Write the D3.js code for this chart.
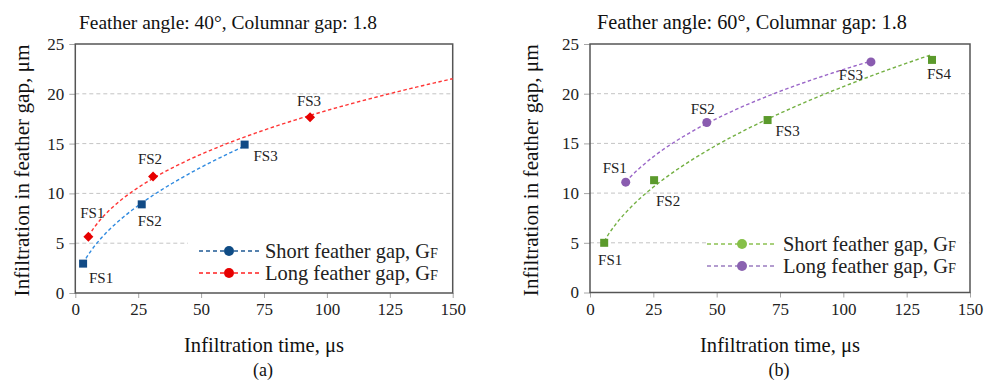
<!DOCTYPE html>
<html>
<head>
<meta charset="utf-8">
<script src="https://cdn.jsdelivr.net/npm/d3@7"></script>
<style>
  body { margin: 0; background: #fff; }
  svg { display: block; }
  svg text { font-family: 'Liberation Serif', 'DejaVu Serif', serif; }
</style>
</head>
<body>
<svg id="chart" width="986" height="381"></svg>
<script>
// axis ticks
const xTicks = [0, 25, 50, 75, 100, 125, 150];
const yTicks = [0, 5, 10, 15, 20, 25];
const pointNames = ['FS1', 'FS2', 'FS3', 'FS4'];

// (a) feather angle 40
const timeShortA = [3.1, 26.4, 67.3];
const gapShortA = [2.95, 8.9, 14.9];
const timeLongA = [5.2, 30.9, 93.3];
const gapLongA = [5.65, 11.7, 17.65];

// (b) feather angle 60
const timeShortB = [5.6, 25.3, 70.1, 135];
const gapShortB = [5.0, 11.3, 17.35, 23.4];
const timeLongB = [14.1, 46.1, 110.9];
const gapLongB = [11.1, 17.1, 23.2];

const svg = d3.select('#chart');

// fit a text element to a target width by changing its font size
function fitWidth(sel, w) {
  const cur = sel.node().getComputedTextLength();
  const fs = parseFloat(sel.attr('font-size'));
  sel.attr('font-size', (fs * w) / cur);
}

// power trendline y = a * x^b (least squares on logs)
function powerFit(xs, ys) {
  const lx = xs.map(Math.log), ly = ys.map(Math.log);
  const mx = d3.mean(lx), my = d3.mean(ly);
  const b = d3.sum(lx, (v, i) => (v - mx) * (ly[i] - my)) / d3.sum(lx, (v) => (v - mx) * (v - mx));
  const a = Math.exp(my - b * mx);
  return (x) => a * Math.pow(x, b);
}

function drawMarker(g, shape, color, cx, cy, size) {
  if (shape === 'square') {
    g.append('rect')
      .attr('x', cx - size / 2).attr('y', cy - size / 2)
      .attr('width', size).attr('height', size)
      .attr('fill', color);
  } else if (shape === 'diamond') {
    const r = size / 2 + 1;
    g.append('path')
      .attr('d', `M${cx},${cy - r}L${cx + r},${cy}L${cx},${cy + r}L${cx - r},${cy}Z`)
      .attr('fill', color);
  } else {
    g.append('circle').attr('cx', cx).attr('cy', cy).attr('r', size / 2 + 0.5).attr('fill', color);
  }
}

function drawPanel(p) {
  const x = d3.scaleLinear().domain([0, 150]).range([p.left, p.right]);
  const y = d3.scaleLinear().domain([0, 25]).range([p.bottom, p.top]);
  const g = svg.append('g');

  // gridlines
  g.append('g')
    .selectAll('line')
    .data(yTicks.filter((d) => d > 0 && d < 25))
    .join('line')
    .attr('x1', p.left).attr('x2', p.right)
    .attr('y1', (d) => y(d)).attr('y2', (d) => y(d))
    .attr('stroke', '#c4c4c4')
    .attr('stroke-width', 1)
    .attr('stroke-dasharray', '4,3');

  // legend box covers the grid
  g.append('rect')
    .attr('x', p.legendX).attr('y', p.legendY)
    .attr('width', p.right - p.legendX - 1).attr('height', p.bottom - p.legendY - 1)
    .attr('fill', '#fff');

  // axes
  const xAxis = g.append('g')
    .attr('transform', `translate(0,${p.bottom})`)
    .call(d3.axisBottom(x).tickValues(xTicks).tickSize(5).tickPadding(5));
  const yAxis = g.append('g')
    .attr('transform', `translate(${p.left},0)`)
    .call(d3.axisLeft(y).tickValues(yTicks).tickSize(6).tickPadding(5));
  [xAxis, yAxis].forEach((ax) => {
    ax.attr('font-family', null).attr('font-size', null);
    ax.select('.domain').remove();
    ax.selectAll('line').attr('stroke', '#a6a6a6');
    ax.selectAll('text')
      .style('font-family', "'Liberation Serif', serif")
      .style('font-size', '17px')
      .attr('fill', '#222');
  });

  // plot frame
  g.append('rect')
    .attr('x', p.left).attr('y', p.top)
    .attr('width', p.right - p.left).attr('height', p.bottom - p.top)
    .attr('fill', 'none')
    .attr('stroke', '#555')
    .attr('stroke-width', 1.5);

  // series
  p.series.forEach((s) => {
    const f = powerFit(s.xs, s.ys);
    const x0 = s.xs[0];
    const x1 = s.extendTo || s.xs[s.xs.length - 1];
    const samples = d3.range(0, 61).map((i) => x0 + ((x1 - x0) * i) / 60);
    g.append('path')
      .datum(samples)
      .attr('d', d3.line().x((d) => x(d)).y((d) => y(f(d))).curve(d3.curveMonotoneX))
      .attr('fill', 'none')
      .attr('stroke', s.trendColor)
      .attr('stroke-width', 1.4)
      .attr('stroke-dasharray', '3.5,2.5');

    s.xs.forEach((v, i) => {
      const cx = x(v), cy = y(s.ys[i]);
      drawMarker(g, s.shape, s.color, cx, cy, 8);
      g.append('text')
        .attr('x', cx + s.labelOff[i][0])
        .attr('y', cy + s.labelOff[i][1])
        .attr('text-anchor', 'middle')
        .attr('font-size', 15)
        .attr('fill', '#222')
        .text(pointNames[i]);
    });
  });

  // legend
  p.series.forEach((s, i) => {
    const ly = p.legendRows[i];
    g.append('line')
      .attr('x1', p.legLineX[0]).attr('x2', p.legLineX[1])
      .attr('y1', ly).attr('y2', ly)
      .attr('stroke', s.legendLine)
      .attr('stroke-width', 1.4)
      .attr('stroke-dasharray', '4,3');
    g.append('circle')
      .attr('cx', (p.legLineX[0] + p.legLineX[1]) / 2).attr('cy', ly)
      .attr('r', 5)
      .attr('fill', s.legendMarker);
    const t = g.append('text')
      .attr('x', p.legTextX).attr('y', ly + 7)
      .attr('font-size', 20)
      .attr('fill', '#222');
    t.append('tspan').text(s.name + ', G');
    t.append('tspan').attr('font-size', 14).text('F');
    const w = t.node().getComputedTextLength();
    t.attr('font-size', (20 * 173) / w);
    t.select('tspan:last-child').attr('font-size', ((14 * 173) / w));
  });

  // title
  const title = svg.append('text')
    .attr('x', p.titleX).attr('y', 29)
    .attr('font-size', 18)
    .attr('fill', '#111')
    .text(p.title);
  fitWidth(title, p.titleW);

  // axis titles
  const yl = svg.append('text')
    .attr('transform', `translate(${p.yLabelX},${(p.top + p.bottom) / 2 + 2}) rotate(-90)`)
    .attr('text-anchor', 'middle')
    .attr('font-size', 20)
    .attr('fill', '#111')
    .text('Infiltration in feather gap, \u03bcm');
  fitWidth(yl, 252);

  const xl = svg.append('text')
    .attr('x', (p.left + p.right) / 2).attr('y', 352)
    .attr('text-anchor', 'middle')
    .attr('font-size', 20)
    .attr('fill', '#111')
    .text('Infiltration time, \u03bcs');
  fitWidth(xl, 160);

  svg.append('text')
    .attr('x', (p.left + p.right) / 2 - 1).attr('y', 376)
    .attr('text-anchor', 'middle')
    .attr('font-size', 18)
    .attr('fill', '#111')
    .text(p.tag);
}

drawPanel({
  left: 75.3, right: 452.7, top: 44, bottom: 293,
  title: 'Feather angle: 40\u00b0, Columnar gap: 1.8', titleX: 79, titleW: 298,
  yLabelX: 29, tag: '(a)',
  legendX: 188, legendY: 237,
  legLineX: [199, 259], legTextX: 265, legendRows: [251, 273],
  series: [
    {
      name: 'Short feather gap', xs: timeShortA, ys: gapShortA,
      shape: 'square', color: '#114a85', trendColor: '#2f8ae0',
      legendLine: '#1f5a94', legendMarker: '#0f4c85',
      labelOff: [[18, 19], [8, 22], [21, 16]],
    },
    {
      name: 'Long feather gap', xs: timeLongA, ys: gapLongA, extendTo: 150,
      shape: 'diamond', color: '#e60000', trendColor: '#ff3535',
      legendLine: '#ff2020', legendMarker: '#e60000',
      labelOff: [[4, -19], [-3, -12], [-1, -11]],
    },
  ],
});

drawPanel({
  left: 590, right: 970, top: 44, bottom: 292.5,
  title: 'Feather angle: 60\u00b0, Columnar gap: 1.8', titleX: 597, titleW: 310,
  yLabelX: 538, tag: '(b)',
  legendX: 708, legendY: 231,
  legLineX: [707, 777], legTextX: 783, legendRows: [244, 266],
  series: [
    {
      name: 'Short feather gap', xs: timeShortB, ys: gapShortB,
      shape: 'square', color: '#5b9a2c', trendColor: '#74b043',
      legendLine: '#8cc152', legendMarker: '#86c048',
      labelOff: [[6, 22], [14, 26], [20, 16], [7, 19]],
    },
    {
      name: 'Long feather gap', xs: timeLongB, ys: gapLongB,
      shape: 'circle', color: '#8a5cb0', trendColor: '#9a66c8',
      legendLine: '#9a7cc0', legendMarker: '#8a62b0',
      labelOff: [[-11, -9], [-4, -9], [-20, 18]],
    },
  ],
});
</script>
</body>
</html>
